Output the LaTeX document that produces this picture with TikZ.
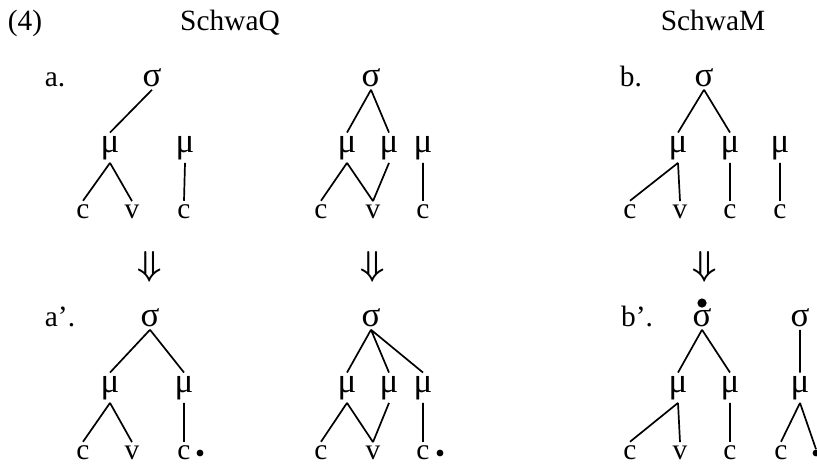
\documentclass[tikz,border=0pt]{standalone}
\usepackage{fontspec}
\setmainfont{Liberation Serif}
\usetikzlibrary{positioning}

\tikzset{
  seg/.style={anchor=base, inner sep=1.5pt, font=\fontsize{14.7}{17}\selectfont},
  tier/.style={seg, font=\fontsize{17.5}{20}\selectfont},
  tie/.style={line width=0.85pt},
  dotmark/.style={circle, fill, inner sep=0pt, minimum size=3.4pt},
  derive/.style={anchor=center, font=\fontsize{18}{20}\selectfont\boldmath},
}

\begin{document}
\begin{tikzpicture}[x=0.5pt, y=-0.5pt]
\useasboundingbox (0,0) rectangle (817,463);

\node[seg] (exnum) at (25,30) {(4)};
\node[seg] (headQ) at (230,30) {SchwaQ};
\node[seg] (headM) at (713,30) {SchwaM};

% SchwaQ, input forms
\node[seg] (labA) at (55,86) {a.};
\node[tier] (sa) at (152,86) {σ};
\node[tier] (ma1) at (110,152) {μ};
\node[tier] (ma2) at (185,152) {μ};
\node[seg] (ca1) at (83,218) {c};
\node[seg] (va) at (132,218) {v};
\node[seg] (ca2) at (184,218) {c};
\draw[tie] (sa.south) -- (ma1.north)
  (ma1.south) -- (ca1.north) (ma1.south) -- (va.north)
  (ma2.south) -- (ca2.north);

\node[tier] (sq) at (371,86) {σ};
\node[tier] (mq1) at (347,152) {μ};
\node[tier] (mq2) at (389,152) {μ};
\node[tier] (mq3) at (423,152) {μ};
\node[seg] (cq1) at (321,218) {c};
\node[seg] (vq) at (373,218) {v};
\node[seg] (cq2) at (423,218) {c};
\draw[tie] (sq.south) -- (mq1.north) (sq.south) -- (mq2.north)
  (mq1.south) -- (cq1.north) (mq1.south) -- (vq.north)
  (mq2.south) -- (vq.north)
  (mq3.south) -- (cq2.north);

% SchwaM, input form
\node[seg] (labB) at (631,86) {b.};
\node[tier] (sb) at (704,86) {σ};
\node[tier] (mb1) at (678,152) {μ};
\node[tier] (mb2) at (730,152) {μ};
\node[tier] (mb3) at (780,152) {μ};
\node[seg] (cb1) at (630,218) {c};
\node[seg] (vb) at (680,218) {v};
\node[seg] (cb2) at (730,218) {c};
\node[seg] (cb3) at (780,218) {c};
\draw[tie] (sb.south) -- (mb1.north) (sb.south) -- (mb2.north)
  (mb1.south) -- (cb1.north) (mb1.south) -- (vb.north)
  (mb2.south) -- (cb2.north)
  (mb3.south) -- (cb3.north);

\node[derive] (arrA) at (150,267) {$\Downarrow$};
\node[derive] (arrQ) at (373,267) {$\Downarrow$};
\node[derive] (arrB) at (705,267) {$\Downarrow$};

% SchwaQ, output forms
\node[seg] (labA') at (60,326) {a’.};
\node[tier] (sa') at (150,326) {σ};
\node[tier] (ma1') at (110,392) {μ};
\node[tier] (ma2') at (184,392) {μ};
\node[seg] (ca1') at (83,459) {c};
\node[seg] (va') at (132,459) {v};
\node[seg] (ca2') at (184,459) {c};
\node[dotmark] (da') at (200,453) {};
\draw[tie] (sa'.south) -- (ma1'.north) (sa'.south) -- (ma2'.north)
  (ma1'.south) -- (ca1'.north) (ma1'.south) -- (va'.north)
  (ma2'.south) -- (ca2'.north);

\node[tier] (sq') at (371,326) {σ};
\node[tier] (mq1') at (347,392) {μ};
\node[tier] (mq2') at (389,392) {μ};
\node[tier] (mq3') at (423,392) {μ};
\node[seg] (cq1') at (321,459) {c};
\node[seg] (vq') at (373,459) {v};
\node[seg] (cq2') at (423,459) {c};
\node[dotmark] (dq') at (440,453) {};
\draw[tie] (sq'.south) -- (mq1'.north) (sq'.south) -- (mq2'.north)
  (sq'.south) -- (mq3'.north)
  (mq1'.south) -- (cq1'.north) (mq1'.south) -- (vq'.north)
  (mq2'.south) -- (vq'.north)
  (mq3'.south) -- (cq2'.north);

% SchwaM, output form
\node[seg] (labB') at (637,326) {b’.};
\node[tier] (sb') at (702,326) {σ};
\node[dotmark, minimum size=4.6pt] (stress) at (702,303) {};
\node[tier] (mb1') at (678,392) {μ};
\node[tier] (mb2') at (730,392) {μ};
\node[seg] (cb1') at (630,459) {c};
\node[seg] (vb') at (680,459) {v};
\node[seg] (cb2') at (730,459) {c};
\draw[tie] (sb'.south) -- (mb1'.north) (sb'.south) -- (mb2'.north)
  (mb1'.south) -- (cb1'.north) (mb1'.south) -- (vb'.north)
  (mb2'.south) -- (cb2'.north);

\node[tier] (sx') at (800,326) {σ};
\node[tier] (mx') at (800,392) {μ};
\node[seg] (cx') at (781,459) {c};
\node[dotmark] (dx') at (816,453) {};
\draw[tie] (sx'.south) -- (mx'.north)
  (mx'.south) -- (cx'.north) (mx'.south) -- (dx'.north);
\end{tikzpicture}
\end{document}
